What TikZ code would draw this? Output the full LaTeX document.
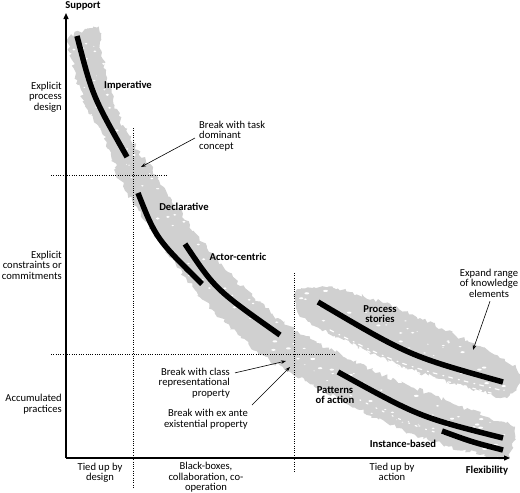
\documentclass[tikz,border=0pt]{standalone}
\usepackage{fontspec}
\setmainfont{Carlito}
\usetikzlibrary{arrows.meta,decorations.pathmorphing,calc}
\definecolor{bandgray}{RGB}{208,208,208}
\begin{document}
\begin{tikzpicture}[x=1pt,y=-1pt,
  lbl/.style={font=\fontsize{10.6}{10.4}\selectfont, inner sep=0pt, align=center},
  blbl/.style={font=\bfseries\fontsize{10.6}{10.4}\selectfont, inner sep=0pt, align=center},
  axis/.style={line width=1.3pt, -{Triangle[length=6pt,width=5pt]}},
  grid/.style={line width=0.9pt, dash pattern=on 0.9pt off 1.4pt},
  annot/.style={line width=0.6pt, -{Stealth[length=5pt,width=3.5pt]}},
  bar/.style={line width=5.5pt},
  band/.style={fill=bandgray, decorate, decoration={random steps,segment length=2.8pt,amplitude=2.2pt}},
  fray/.style={white, line width=1.2pt, line cap=round}
]
\useasboundingbox (0,0) rectangle (520,493);
\pgfmathsetseed{7}
% gray bands
\path[band] plot[smooth cycle, tension=0.6] coordinates {
 (97,28) (101,50) (106,75) (113,100) (123,125) (138,150) (156,175) (172,200)
 (190,225) (207,248) (228,272) (252,296) (278,318) (305,336) (335,352) (372,370)
 (410,386) (450,402) (490,418) (513,427) (512,446) (505,458) (470,452) (435,442)
 (398,428) (360,410) (322,390) (290,372) (262,355) (238,335) (215,312) (195,290)
 (178,268) (162,245) (146,222) (132,200) (120,180) (113,160) (103,135) (88,110)
 (78,85) (72,60) (69,38)};
\path[band] plot[smooth cycle, tension=0.6] coordinates {
 (296,292) (320,287) (350,292) (385,303) (420,318) (455,335) (490,352) (516,368)
 (518,385) (505,397) (470,388) (435,378) (400,365) (365,350) (335,336) (310,322) (296,308)};
% speckles in the bands
\foreach \p in {0.01,0.025,...,0.99}{
  \pgfmathsetmacro\dx{rand*15}\pgfmathsetmacro\dy{rand*15}\pgfmathsetmacro\r{0.5+rnd*1.4}
  \path (84,32) .. controls (100,130) and (160,230) .. (270,330) coordinate[pos=\p] (tmpa);
  \fill[white] ($(tmpa)+(\dx,\dy)$) ellipse [x radius=\r pt, y radius=0.6*\r pt];
}
\foreach \p in {0.01,0.03,...,0.99}{
  \pgfmathsetmacro\dx{rand*8}\pgfmathsetmacro\dy{rand*17}\pgfmathsetmacro\r{0.5+rnd*1.5}
  \path (270,330) .. controls (350,390) and (430,425) .. (508,442) coordinate[pos=\p] (tmpb);
  \fill[white] ($(tmpb)+(\dx,\dy)$) ellipse [x radius=1.3*\r pt, y radius=0.6*\r pt];
  \pgfmathsetmacro\ex{rand*8}\pgfmathsetmacro\ey{rand*15}
  \path (300,298) .. controls (390,320) and (440,360) .. (512,378) coordinate[pos=\p] (tmpc);
  \fill[white] ($(tmpc)+(\ex,\ey)$) ellipse [x radius=1.3*\r pt, y radius=0.6*\r pt];
}
% fraying texture
\draw[fray, dash pattern=on 4pt off 6pt on 1pt off 5pt] (330,330) .. controls (400,365) .. (500,390);
\draw[fray, dash pattern=on 2pt off 7pt on 3pt off 4pt] (345,340) .. controls (410,372) .. (495,394);
\draw[fray, dash pattern=on 2pt off 9pt on 1pt off 6pt] (350,395) .. controls (420,430) .. (500,447);
% dotted grid lines
\coordinate (v1t) at (133,128); \coordinate (v1b) at (133,488);
\coordinate (h1l) at (51,175);  \coordinate (h1r) at (167,175);
\coordinate (v2t) at (294,273); \coordinate (v2b) at (294,473);
\coordinate (h2l) at (51,354);  \coordinate (h2r) at (336,354);
\draw[grid] (v1t) -- (v1b);
\draw[grid] (h1l) -- (h1r);
\draw[grid] (v2t) -- (v2b);
\draw[grid] (h2l) -- (h2r);
% axes
\coordinate (O) at (66,458);
\coordinate (ytop) at (66,13);
\coordinate (xend) at (510,458);
\draw[axis] (O) -- (ytop);
\draw[axis] (O) -- (xend);
% black bars
\draw[bar] (77,36) .. controls (92.5,96) .. (127,157);
\draw[bar] (138,193) .. controls (156,238.5) .. (202,284);
\draw[bar] (185,244) .. controls (215.5,289.5) .. (280,335);
\draw[bar] (318,302) .. controls (409.5,356) .. (503,382);
\draw[bar] (338,372) .. controls (419.5,417) .. (503,438);
\draw[bar] (442,431) .. controls (472,442) .. (503,450);
% labels
\node[blbl] (support) at (83,6) {Support};
\node[blbl] (flex) at (487,471) {Flexibility};
\node[lbl, align=right, anchor=east] (epd) at (62,97) {Explicit\\process\\design};
\node[lbl, align=right, anchor=east] (ecc) at (62,265) {Explicit\\constraints or\\commitments};
\node[lbl, align=right, anchor=east] (acc) at (62,404) {Accumulated\\practices};
\node[lbl] (tdes) at (100,473) {Tied up by\\design};
\node[lbl] (bb) at (206,477.5) {Black-boxes,\\collaboration, co-\\operation};
\node[lbl] (tact) at (392,472) {Tied up by\\action};
\node[lbl, align=left, anchor=west] (task) at (199,136) {Break with task\\dominant\\concept};
\node[lbl, align=right, anchor=east] (cls) at (230,383) {Break with class\\representational\\property};
\node[lbl, align=right, anchor=east] (exa) at (248,419) {Break with ex ante\\existential property};
\node[lbl] (expd) at (489,283) {Expand range\\of knowledge\\elements};
\node[blbl] (imp) at (128,86) {Imperative};
\node[blbl] (decl) at (184,207) {Declarative};
\node[blbl] (actor) at (238,257) {Actor-centric};
\node[blbl] (proc) at (380,314) {Process\\stories};
\node[blbl] (patt) at (335,395) {Patterns\\of action};
\node[blbl] (inst) at (403,444) {Instance-based};
% annotation arrows
\coordinate (taskT) at (141,167);
\coordinate (clsT) at (286,361);
\coordinate (exaT) at (290,367);
\coordinate (expT) at (473,350);
\draw[annot] ([xshift=-4pt,yshift=-2pt]task.west) -- (taskT);
\draw[annot] ([xshift=5pt,yshift=-5pt]cls.north east) -- (clsT);
\draw[annot] ([xshift=4pt,yshift=4pt]exa.north east) -- (exaT);
\draw[annot] ([xshift=1pt,yshift=-4pt]expd.south) -- (expT);
\end{tikzpicture}
\end{document}
